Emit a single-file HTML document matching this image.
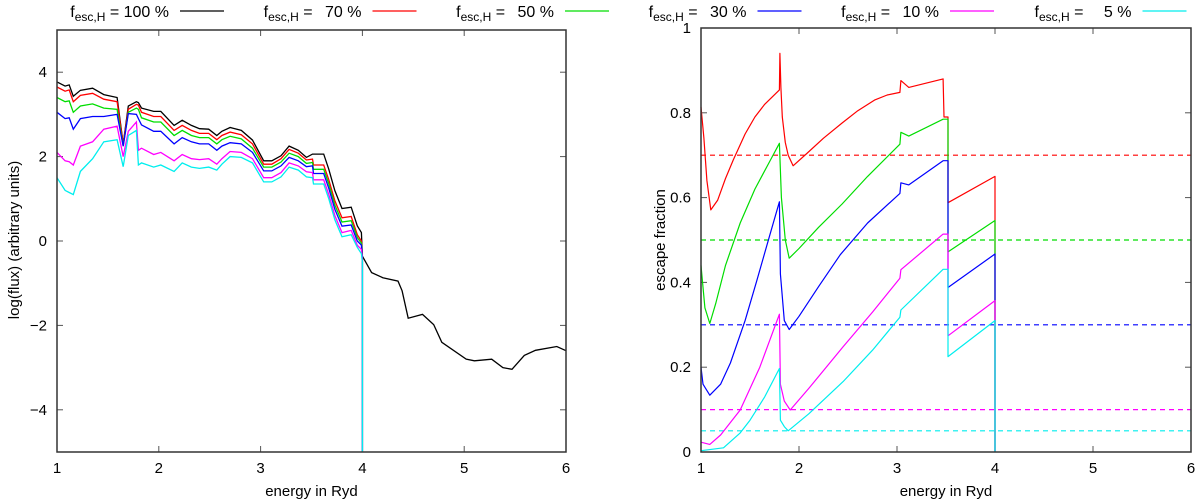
<!DOCTYPE html>
<html><head><meta charset="utf-8"><style>
html,body{margin:0;padding:0;background:#fff;}
svg{display:block;font-family:"Liberation Sans",Arial,sans-serif;}
</style></head><body>
<svg id="chart" width="1200" height="503" viewBox="0 0 1200 503"></svg>
<script>
const labels=["100","70","50","30","10","5"];
const colors=["#000000","#ff0000","#00dd00","#0000ff","#ff00ff","#00eeee"];
const fescVals=[1.0,0.7,0.5,0.3,0.1,0.05];
// left panel: log flux
const blackE=[1.0,1.08,1.12,1.16,1.23,1.35,1.46,1.59,1.65,1.70,1.78,1.80,1.83,1.95,2.02,2.15,2.23,2.32,2.40,2.49,2.57,2.62,2.70,2.81,2.92,3.03,3.11,3.20,3.28,3.37,3.45,3.51,3.52,3.62,3.67,3.73,3.80,3.89,3.95,3.99,4.0,4.09,4.2,4.35,4.39,4.45,4.59,4.70,4.78,5.02,5.10,5.27,5.38,5.47,5.59,5.70,5.91,6.0];
const blackV=[3.77,3.67,3.7,3.43,3.57,3.62,3.47,3.4,2.3,3.2,3.3,3.28,3.15,3.07,3.07,2.74,2.86,2.74,2.66,2.65,2.5,2.6,2.69,2.62,2.39,1.9,1.9,2.02,2.25,2.15,1.98,2.06,2.06,2.06,1.7,1.19,0.77,0.8,0.36,0.2,-0.36,-0.75,-0.87,-0.95,-1.18,-1.83,-1.74,-1.98,-2.4,-2.8,-2.84,-2.8,-3.0,-3.04,-2.71,-2.59,-2.5,-2.6];
const colE=[1.0,1.08,1.12,1.16,1.23,1.35,1.46,1.59,1.65,1.70,1.78,1.80,1.83,1.95,2.02,2.15,2.23,2.32,2.40,2.49,2.57,2.62,2.70,2.81,2.92,3.03,3.11,3.20,3.28,3.37,3.45,3.51,3.52,3.62,3.67,3.73,3.80,3.89,3.95,3.99,4.0,4.0];
const redV=[3.65,3.55,3.58,3.3,3.45,3.5,3.36,3.3,2.3,3.12,3.24,3.22,3.05,2.95,2.95,2.62,2.74,2.62,2.55,2.55,2.4,2.5,2.58,2.52,2.3,1.82,1.82,1.95,2.17,2.08,1.92,1.94,1.8,1.8,1.45,0.95,0.55,0.58,0.15,0.0,-0.4,-5];
const greenV=[3.4,3.3,3.32,3.05,3.2,3.25,3.15,3.12,2.25,3.05,3.15,3.12,2.92,2.82,2.82,2.5,2.62,2.5,2.45,2.45,2.3,2.4,2.48,2.42,2.2,1.75,1.75,1.87,2.08,2.0,1.84,1.86,1.7,1.7,1.35,0.85,0.45,0.48,0.08,-0.05,-0.4,-5];
const blueV=[3.05,2.9,2.92,2.65,2.9,2.95,2.95,3.0,2.25,3.02,3.0,2.9,2.75,2.6,2.6,2.3,2.45,2.35,2.3,2.3,2.15,2.25,2.33,2.3,2.1,1.66,1.66,1.78,1.98,1.9,1.76,1.78,1.6,1.6,1.25,0.75,0.35,0.38,0.0,-0.1,-0.4,-5];
const magV=[2.1,1.9,1.88,1.8,2.25,2.35,2.65,2.72,2.0,2.6,2.82,2.15,2.2,2.05,2.1,1.9,2.05,1.95,1.93,1.95,1.82,1.95,2.12,2.1,1.95,1.5,1.5,1.62,1.85,1.78,1.64,1.62,1.45,1.45,1.1,0.6,0.2,0.25,-0.1,-0.2,-0.45,-5];
const cyanV=[1.5,1.2,1.15,1.1,1.65,1.95,2.35,2.4,1.76,2.5,2.62,1.8,1.85,1.75,1.8,1.65,1.85,1.75,1.72,1.75,1.68,1.82,2.0,1.98,1.85,1.4,1.4,1.52,1.75,1.68,1.52,1.5,1.35,1.35,1.0,0.5,0.1,0.15,-0.15,-0.3,-0.5,-5];
// right panel: escape fraction
const redFE=[1.0,1.03,1.06,1.10,1.17,1.25,1.33,1.45,1.55,1.65,1.80,1.805,1.815,1.83,1.86,1.89,1.94,2.08,2.25,2.44,2.6,2.77,2.9,3.03,3.04,3.12,3.30,3.47,3.48,3.52,3.52,4.0,4.0];
const redF=[0.814,0.74,0.64,0.571,0.594,0.645,0.689,0.75,0.79,0.82,0.854,0.94,0.86,0.79,0.73,0.70,0.675,0.704,0.74,0.776,0.805,0.83,0.842,0.848,0.876,0.86,0.87,0.88,0.79,0.79,0.588,0.65,0];
const greenFE=[1.0,1.04,1.09,1.15,1.25,1.4,1.55,1.7,1.80,1.82,1.86,1.90,2.0,2.2,2.44,2.7,3.03,3.04,3.12,3.47,3.52,3.52,4.0,4.0];
const greenF=[0.44,0.34,0.303,0.35,0.44,0.54,0.62,0.685,0.728,0.6,0.5,0.457,0.48,0.53,0.585,0.65,0.726,0.754,0.745,0.785,0.785,0.472,0.546,0];
const blueFE=[1.0,1.02,1.09,1.2,1.30,1.45,1.57,1.7,1.80,1.81,1.85,1.90,2.0,2.2,2.42,2.7,3.03,3.04,3.12,3.47,3.52,3.52,4.0,4.0];
const blueF=[0.20,0.16,0.134,0.16,0.21,0.31,0.405,0.51,0.59,0.42,0.31,0.289,0.32,0.39,0.465,0.54,0.61,0.635,0.63,0.687,0.687,0.388,0.467,0];
const magFE=[1.0,1.09,1.2,1.40,1.6,1.80,1.81,1.85,1.91,2.1,2.45,2.75,3.03,3.04,3.47,3.52,3.52,4.0,4.0];
const magF=[0.023,0.018,0.04,0.099,0.2,0.325,0.16,0.12,0.099,0.15,0.248,0.33,0.41,0.43,0.514,0.514,0.274,0.357,0];
const cyanFE=[1.0,1.23,1.40,1.50,1.65,1.80,1.81,1.85,1.89,2.1,2.45,2.75,3.03,3.04,3.47,3.52,3.52,4.0,4.0];
const cyanF=[0.003,0.01,0.045,0.075,0.13,0.197,0.075,0.06,0.05,0.09,0.166,0.24,0.318,0.335,0.431,0.431,0.225,0.31,0];

const NS="http://www.w3.org/2000/svg";
const svg=document.getElementById('chart');
function mk(tag,attrs,parent){const e=document.createElementNS(NS,tag);for(const k in attrs)e.setAttribute(k,attrs[k]);(parent||svg).appendChild(e);return e;}
function txt(s,x,y,anchor,size,parent){const t=mk('text',{x:x,y:y,'text-anchor':anchor,'font-size':size,fill:'#000'},parent);t.textContent=s;return t;}

const L={x0:57,x1:566,y0:452,y1:30,xmin:1,xmax:6,ymin:-5,ymax:5};
const R={x0:701,x1:1191,y0:452,y1:28,xmin:1,xmax:6,ymin:0,ymax:1};
function sx(a,v){return a.x0+(v-a.xmin)/(a.xmax-a.xmin)*(a.x1-a.x0);}
function sy(a,v){return a.y0-(v-a.ymin)/(a.ymax-a.ymin)*(a.y0-a.y1);}
function linePath(a,xs,ys){return xs.map((x,i)=>(i?'L':'M')+sx(a,x).toFixed(1)+','+sy(a,ys[i]).toFixed(1)).join(' ');}

const leg=mk('g',{});


labels.forEach((lab,i)=>{
  const lx=180+i*192.5;
  const g=mk('g',{},leg);
  
  
  const t=mk('text',{x:lx-11,y:17,'text-anchor':'end','font-size':16,fill:'#000'},g);
  t.innerHTML='f<tspan font-size="12" dy="4">esc,H</tspan><tspan dy="-4"> = '+(lab.length<3?'\u2002':'')+(lab.length<2?'\u2002':'')+lab+' %</tspan>';
  mk('line',{x1:lx,x2:lx+44,y1:11,y2:11,stroke:colors[i],'stroke-width':1.2},g);
});

function frame(a,name,xt,yt,yfmt){
  const g=mk('g',{});
  
  
  xt.forEach(v=>{const x=sx(a,v);
    mk('line',{x1:x,x2:x,y1:a.y0,y2:a.y0-6,stroke:'#555','stroke-width':1},g);
    mk('line',{x1:x,x2:x,y1:a.y1,y2:a.y1+6,stroke:'#555','stroke-width':1},g);
    txt(String(v),x,a.y0+21,'middle',15,g);});
  yt.forEach(v=>{const y=sy(a,v);
    mk('line',{x1:a.x0,x2:a.x0+6,y1:y,y2:y,stroke:'#555','stroke-width':1},g);
    mk('line',{x1:a.x1,x2:a.x1-6,y1:y,y2:y,stroke:'#555','stroke-width':1},g);
    txt(yfmt(v),a.x0-10,y+5,'end',15,g);});
  return g;
}
frame(L,'left-axes',[1,2,3,4,5,6],[4,2,0,-2,-4],v=>v<0?'\u2212'+(-v):String(v));
frame(R,'right-axes',[1,2,3,4,5,6],[0,0.2,0.4,0.6,0.8,1],v=>String(v));

const leftSeries=[[blackE,blackV],[colE,redV],[colE,greenV],[colE,blueV],[colE,magV],[colE,cyanV]];
leftSeries.forEach((s,i)=>{
  const p=mk('path',{d:linePath(L,s[0],s[1]),fill:'none',stroke:colors[i],'stroke-width':1.3});
  
  
});
fescVals.slice(1).forEach((f,k)=>{
  const y=sy(R,f);
  const l=mk('line',{x1:R.x0,x2:R.x1,y1:y,y2:y,stroke:colors[k+1],'stroke-width':1.2,'stroke-dasharray':'5,4'});
  
  
});
const rightSeries=[[redFE,redF],[greenFE,greenF],[blueFE,blueF],[magFE,magF],[cyanFE,cyanF]];
rightSeries.forEach((s,k)=>{
  const p=mk('path',{d:linePath(R,s[0],s[1]),fill:'none',stroke:colors[k+1],'stroke-width':1.2,'stroke-linejoin':'round'});
  
  
});
[L,R].forEach((a,i)=>{
  const r=mk('rect',{x:a.x0,y:a.y1,width:a.x1-a.x0,height:a.y0-a.y1,fill:'none',stroke:'#333','stroke-width':1.5});
  
  
});
let t;
t=txt('energy in Ryd',(L.x0+L.x1)/2,496,'middle',15);

t=txt('energy in Ryd',(R.x0+R.x1)/2,496,'middle',15);

t=txt('log(flux) (arbitrary units)',0,0,'middle',15);t.setAttribute('transform','translate(19,240) rotate(-90)');

t=txt('escape fraction',0,0,'middle',15);t.setAttribute('transform','translate(665,240) rotate(-90)');

</script>
</body></html>
